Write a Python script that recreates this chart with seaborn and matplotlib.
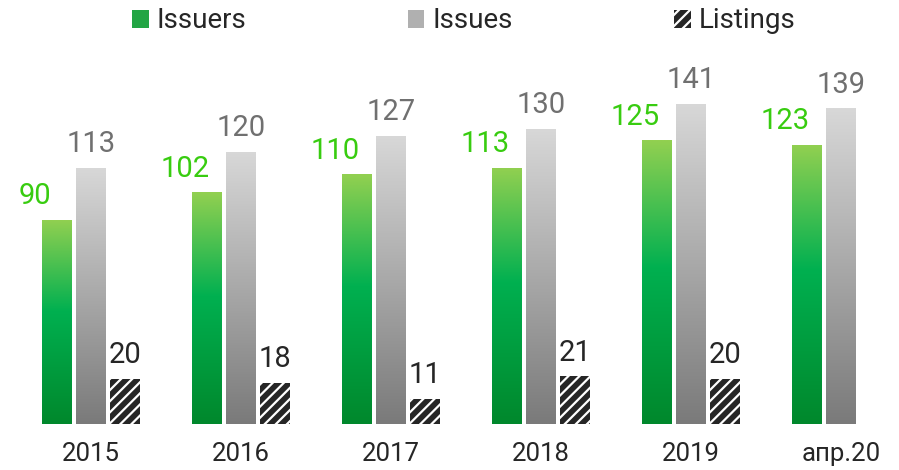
import numpy as np
import pandas as pd
import matplotlib
matplotlib.use('Agg')
import matplotlib.pyplot as plt
from matplotlib.colors import LinearSegmentedColormap
from matplotlib.patches import Patch
import seaborn as sns

# chart values
periods = ['2015', '2016', '2017', '2018', '2019', 'апр.20']
issuers = [90, 102, 110, 113, 125, 123]
issues = [113, 120, 127, 130, 141, 139]
listings = [20, 18, 11, 21, 20, np.nan]
series = ['Issuers', 'Issues', 'Listings']

df = pd.DataFrame({'period': periods * 3,
                   'series': np.repeat(series, len(periods)),
                   'value': issuers + issues + listings}).dropna()

sns.set_style('white')
plt.rcParams['font.family'] = ['Roboto', 'DejaVu Sans']
plt.rcParams['hatch.linewidth'] = 1.6

fig = plt.figure(figsize=(8.99, 4.70), dpi=100)
ax = fig.add_axes([0, 46 / 470, 1, 424 / 470])

palette = {'Issuers': '#00b050', 'Issues': '#b0b0b0', 'Listings': '#262626'}
sns.barplot(data=df, x='period', y='value', hue='series', order=periods,
            hue_order=series, palette=palette, width=0.68, gap=0.12,
            errorbar=None, legend=False, ax=ax, saturation=1)

green_cmap = LinearSegmentedColormap.from_list(
    'g', [(0, '#00882c'), (0.55, '#00b050'), (1, '#92d050')])
gray_cmap = LinearSegmentedColormap.from_list('k', ['#7a7a7a', '#d8d8d8'])
grad = np.linspace(0, 1, 256).reshape(-1, 1)

for cont, cmap in zip(ax.containers[:2], [green_cmap, gray_cmap]):
    for bar in cont:
        x0, y0 = bar.get_x(), bar.get_y()
        w, h = bar.get_width(), bar.get_height()
        bar.set_facecolor('none')
        bar.set_edgecolor('none')
        im = ax.imshow(grad, extent=[x0, x0 + w, y0, y0 + h], origin='lower',
                       aspect='auto', cmap=cmap, zorder=2)
        im.set_clip_path(bar)

for bar in ax.containers[2]:
    bar.set_hatch('///')
    bar.set_edgecolor('white')
    bar.set_linewidth(0)

label_colors = ['#38cc10', '#707070', '#262626']
for i, (cont, c) in enumerate(zip(ax.containers, label_colors)):
    texts = ax.bar_label(cont, fmt='%.0f', padding=7, color=c, fontsize=21)
    if i == 0:
        # issuer labels sit a bit to the left of their bars
        for t in texts:
            t.xyann = (-16, t.xyann[1])

ax.set_xlim(-0.607, 5.387)
ax.set_ylim(0, 186.8)
ax.set_xlabel('')
ax.set_ylabel('')
ax.set_yticks([])
ax.tick_params(axis='x', length=0, pad=13, labelsize=18.5, labelcolor='#262626')
sns.despine(ax=ax, left=True, bottom=True)

handles = [Patch(facecolor='#22a544', edgecolor='none'),
           Patch(facecolor='#b0b0b0', edgecolor='none'),
           Patch(facecolor='#262626', edgecolor='white', hatch='///', linewidth=0)]
fig.legend(handles, series, loc='center', bbox_to_anchor=(0.516, 1 - 21 / 470),
           ncol=3, frameon=False, fontsize=20, handlelength=0.6, handleheight=0.6,
           handletextpad=0.3, columnspacing=5.8, borderpad=0, labelcolor='#262626')

fig.savefig('out.png', dpi=100)
